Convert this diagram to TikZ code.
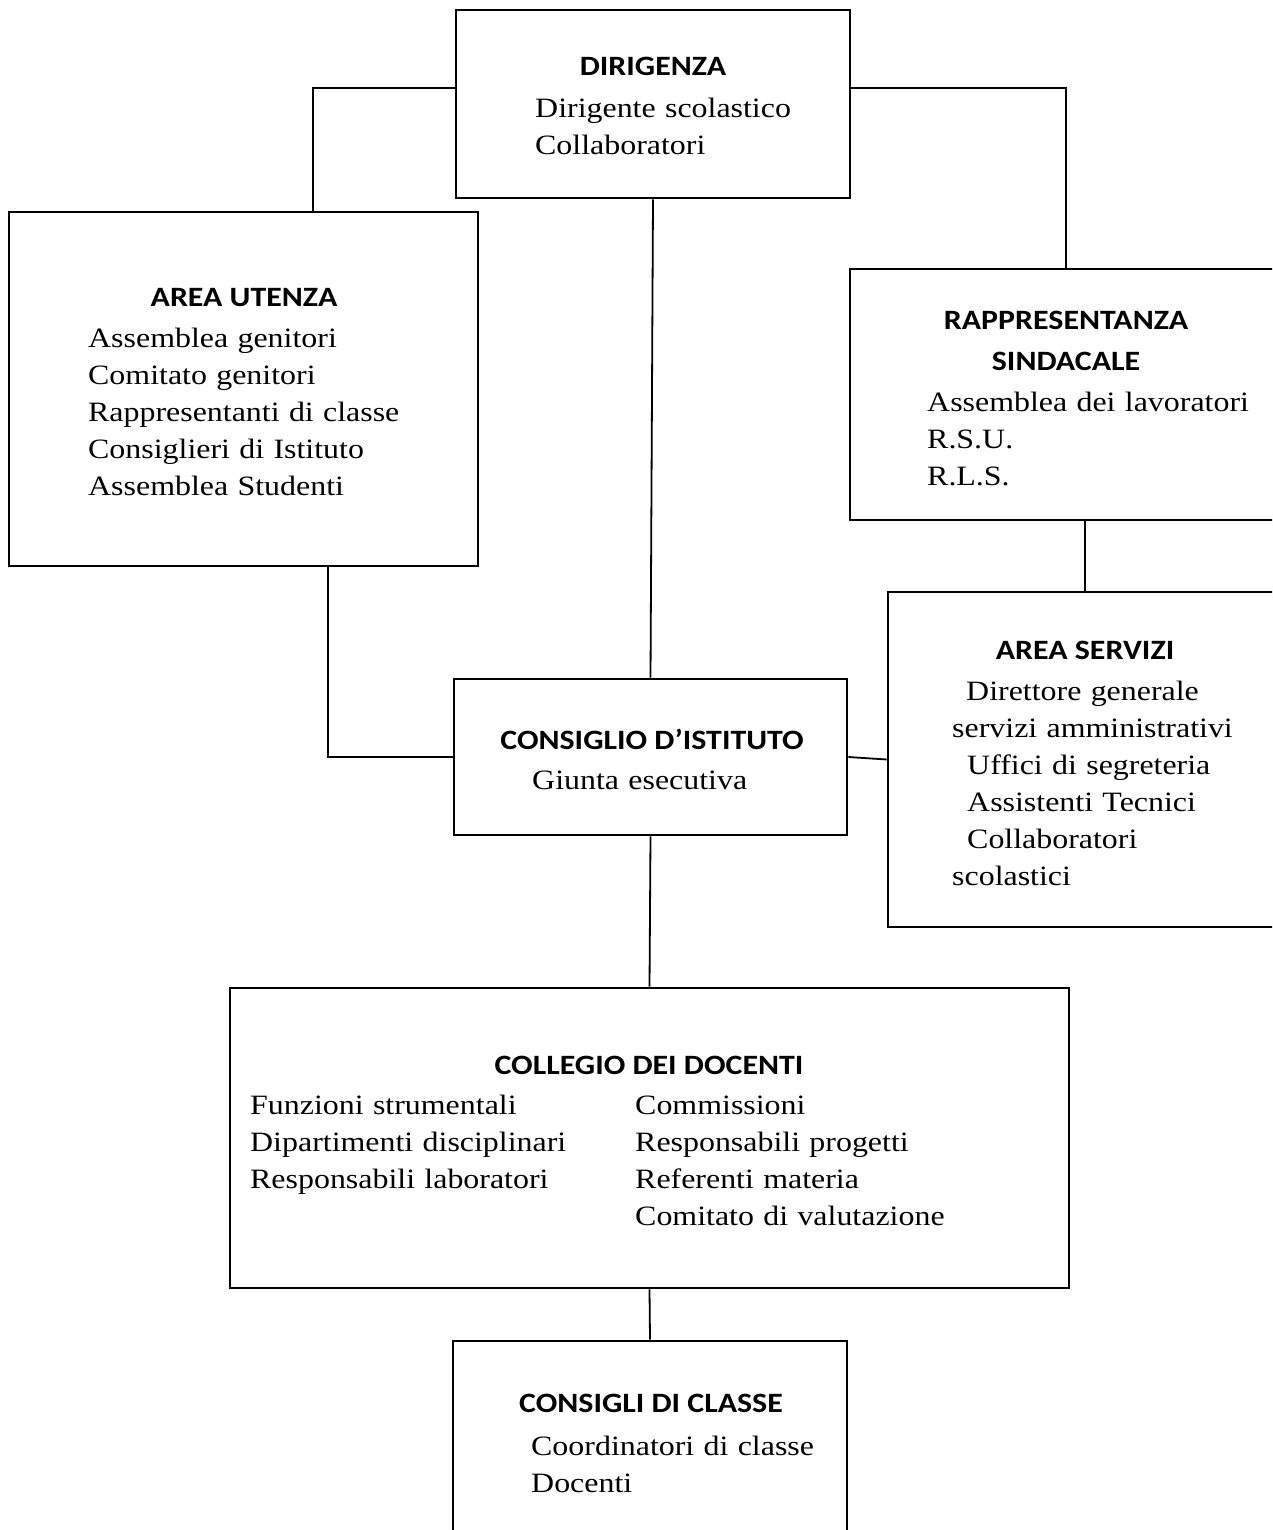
\documentclass[tikz,border=0pt]{standalone}
\usepackage{fontspec}
\setmainfont{Liberation Serif}[FakeStretch=1.14]
\newfontfamily\headfont{Carlito}[FakeStretch=1.14]

\begin{document}
\begin{tikzpicture}[x=1pt,y=-1pt,
  link/.style={line width=1.8pt},
  box/.style={draw,rectangle,line width=2.6pt,inner sep=0pt},
  head/.style={anchor=base,inner sep=0pt,font=\headfont\bfseries\fontsize{28}{34}\selectfont},
  txt/.style={anchor=base west,inner sep=0pt,text width=430pt,align=left,font=\fontsize{28}{37}\selectfont}]
\useasboundingbox (0,0) rectangle (1272,1530);
\clip (0,0) rectangle (1272,1530);
% boxes
\node[box,minimum width=394pt,minimum height=188pt] (dir) at (653,104) {};
\node[box,minimum width=469pt,minimum height=354pt] (ute) at (243.5,389) {};
\node[box,minimum width=432pt,minimum height=251pt] (rapp) at (1066,394.5) {};
\node[box,minimum width=394pt,minimum height=335pt] (serv) at (1085,759.5) {};
\node[box,minimum width=393pt,minimum height=156pt] (cons) at (650.5,757) {};
\node[box,minimum width=839pt,minimum height=300pt] (col) at (649.5,1138) {};
\node[box,minimum width=394pt,minimum height=229pt] (cls) at (650,1455.5) {};
% headings
\node[head] (dirh) at (653,76) {DIRIGENZA};
\node[head] (uteh) at (244,306) {AREA UTENZA};
\node[head] (rapph) at (1066,329) {RAPPRESENTANZA};
\node[head] (rapphb) at (1066,370) {SINDACALE};
\node[head] (servh) at (1085,659) {AREA SERVIZI};
\node[head] (consh) at (652,749) {CONSIGLIO D’ISTITUTO};
\node[head] (colh) at (649,1074) {COLLEGIO DEI DOCENTI};
\node[head] (clsh) at (651,1412) {CONSIGLI DI CLASSE};
% contents
\node[txt] (dirt) at (535,118) {Dirigente scolastico\\Collaboratori};
\node[txt] (utet) at (88,347) {Assemblea genitori\\Comitato genitori\\Rappresentanti di classe\\Consiglieri di Istituto\\Assemblea Studenti};
\node[txt] (rappt) at (927,411) {Assemblea dei lavoratori\\R.S.U.\\R.L.S.};
\node[txt] (servt) at (952,700) {\hspace*{14pt}Direttore generale\\servizi amministrativi\\\hspace*{15pt}Uffici di segreteria\\\hspace*{15pt}Assistenti Tecnici\\\hspace*{15pt}Collaboratori\\scolastici};
\node[txt] (const) at (532,789) {Giunta esecutiva};
\node[txt] (colta) at (250,1114) {Funzioni strumentali\\Dipartimenti disciplinari\\Responsabili laboratori};
\node[txt] (coltb) at (635,1114) {Commissioni\\Responsabili progetti\\Referenti materia\\Comitato di valutazione};
\node[txt] (clst) at (531,1455) {Coordinatori di classe\\Docenti};
% links
\draw[link] ([yshift=16pt]dir.west) -| ([xshift=69.5pt]ute.north);
\draw[link] ([yshift=16pt]dir.east) -| (rapp.north);
\draw[link] (dir.south) -- (cons.north);
\draw[link] ([xshift=84.5pt]ute.south) |- (cons.west);
\draw[link] (cons.east) -- (serv.west);
\draw[link] (rapp.south -| serv.north) -- (serv.north);
\draw[link] (cons.south) -- (col.north);
\draw[link] (col.south) -- (cls.north);
\end{tikzpicture}
\end{document}
